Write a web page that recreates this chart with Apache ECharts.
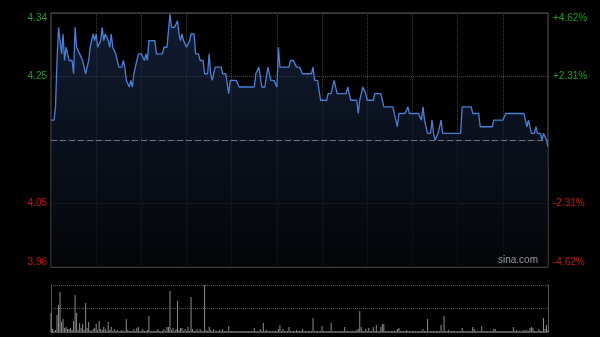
<!DOCTYPE html>
<html>
<head>
<meta charset="utf-8">
<script src="https://cdn.jsdelivr.net/npm/echarts@6/dist/echarts.min.js"></script>
<style>
html,body{margin:0;padding:0;background:#000;}
#chart{width:600px;height:337px;}
</style>
</head>
<body>
<div id="chart"></div>
<script>
const prevClose = 4.15;
const pctTicks = [-4.62, -2.31, 0, 2.31, 4.62];

const prices = [
4.18,4.18,4.18,4.20,4.27,4.32,4.30,4.28,4.31,4.27,
4.29,4.29,4.27,4.27,4.27,4.25,4.32,4.29,4.29,4.28,
4.28,4.27,4.26,4.25,4.25,4.27,4.29,4.29,4.31,4.30,
4.31,4.29,4.29,4.30,4.32,4.30,4.31,4.31,4.30,4.29,
4.31,4.29,4.29,4.28,4.27,4.26,4.26,4.26,4.27,4.26,
4.24,4.24,4.23,4.24,4.23,4.25,4.26,4.27,4.28,4.28,
4.28,4.28,4.27,4.28,4.27,4.30,4.30,4.30,4.30,4.30,
4.28,4.28,4.28,4.28,4.28,4.29,4.29,4.29,4.29,4.34,
4.32,4.32,4.32,4.32,4.33,4.31,4.30,4.31,4.30,4.30,
4.29,4.29,4.30,4.31,4.31,4.31,4.28,4.28,4.28,4.27,
4.27,4.27,4.25,4.25,4.25,4.28,4.25,4.24,4.25,4.26,
4.26,4.26,4.26,4.26,4.25,4.25,4.25,4.25,4.22,4.24,
4.24,4.24,4.24,4.24,4.24,4.23,4.23,4.23,4.23,4.23,
4.23,4.23,4.23,4.23,4.23,4.23,4.25,4.25,4.26,4.26,
4.23,4.23,4.23,4.23,4.26,4.26,4.24,4.24,4.24,4.24,
4.23,4.29,4.26,4.26,4.26,4.26,4.26,4.26,4.26,4.27,
4.27,4.27,4.27,4.26,4.26,4.26,4.26,4.25,4.25,4.25,
4.25,4.25,4.25,4.25,4.26,4.24,4.24,4.24,4.24,4.21,
4.21,4.21,4.21,4.21,4.22,4.22,4.22,4.22,4.24,4.24,
4.22,4.22,4.22,4.22,4.22,4.22,4.22,4.23,4.23,4.21,
4.21,4.21,4.21,4.21,4.19,4.21,4.22,4.23,4.23,4.22,
4.21,4.21,4.21,4.21,4.21,4.22,4.22,4.22,4.22,4.22,
4.22,4.20,4.20,4.20,4.20,4.20,4.20,4.20,4.20,4.18,
4.17,4.19,4.19,4.19,4.19,4.19,4.19,4.20,4.19,4.19,
4.19,4.19,4.19,4.19,4.19,4.19,4.18,4.20,4.18,4.17,
4.16,4.16,4.16,4.18,4.16,4.15,4.15,4.16,4.17,4.18,
4.16,4.16,4.16,4.16,4.16,4.16,4.16,4.16,4.16,4.16,
4.16,4.16,4.16,4.20,4.20,4.20,4.20,4.20,4.20,4.20,
4.19,4.19,4.19,4.19,4.19,4.17,4.17,4.17,4.17,4.17,
4.17,4.17,4.17,4.17,4.18,4.18,4.18,4.18,4.18,4.18,
4.18,4.18,4.19,4.19,4.19,4.19,4.19,4.19,4.19,4.19,
4.19,4.19,4.19,4.19,4.19,4.18,4.17,4.18,4.18,4.16,
4.16,4.16,4.17,4.16,4.16,4.16,4.15,4.16,4.16,4.15,
4.14
];

const volumes = [
190,30,10,20,170,270,400,100,130,40,
50,30,30,40,20,110,370,190,20,90,
40,80,20,290,40,100,20,10,30,40,
80,20,110,30,20,50,30,10,100,20,
50,10,30,10,20,10,10,20,10,10,
130,20,10,10,10,30,10,40,50,10,
10,30,10,10,20,160,10,10,10,10,
10,30,10,10,10,30,10,50,50,410,
20,40,10,30,310,20,40,40,10,30,
10,50,10,350,30,10,10,30,10,30,
10,10,470,20,10,50,20,10,30,10,
10,10,20,10,30,10,10,10,60,10,
10,10,10,10,10,10,10,10,10,10,
10,10,10,10,10,40,10,10,10,30,
10,90,10,20,10,10,10,10,10,10,
10,30,70,10,30,10,10,10,50,10,
10,10,10,20,10,10,10,30,10,10,
10,10,10,10,140,10,10,10,10,10,
60,10,10,10,10,10,90,10,10,10,
10,10,10,10,10,50,10,10,10,10,
10,10,10,20,30,210,50,10,10,30,
10,40,10,10,50,10,70,10,10,50,
80,80,10,10,10,10,10,10,10,10,
30,40,10,10,10,10,20,10,10,10,
10,10,10,10,10,10,10,30,10,10,
130,10,10,10,10,10,10,10,10,70,
10,160,10,10,20,10,10,10,10,10,
10,10,10,40,10,10,10,10,10,10,
50,30,10,10,10,10,60,10,10,10,
10,10,10,10,30,30,10,10,10,10,
10,10,10,10,10,10,10,50,10,20,
10,10,10,10,20,10,20,10,40,50,
40,10,10,10,30,10,10,140,30,70,
20
];

// trading minutes (HK session): 09:30-12:00, 13:01-16:00
const times = [];
function pad(n){return (n<10?'0':'')+n;}
for (let m = 9*60+30; m <= 12*60; m++) times.push(pad(Math.floor(m/60))+':'+pad(m%60));
for (let m = 13*60+1; m <= 16*60; m++) times.push(pad(Math.floor(m/60))+':'+pad(m%60));

const pctData = prices.map(p => +(((p/prevClose)-1)*100).toFixed(4));
const volMax = Math.max.apply(null, volumes);

const FONT = 'Liberation Sans, Arial, sans-serif';
const GREEN = '#1a9e1a';
const RED = '#cc1414';
function isZero(v){return Math.abs(v) < 1e-6;}

const chart = echarts.init(document.getElementById('chart'), null, {renderer:'canvas'});
chart.setOption({
  animation: false,
  backgroundColor: '#000',
  grid: [
    {left: 51, top: 13, width: 497, height: 254, show: true, borderColor: '#5a5a5a', borderWidth: 1, backgroundColor: 'transparent'},
    {left: 51, top: 285, width: 497, height: 47, show: false}
  ],
  xAxis: [
    {
      gridIndex: 0, type: 'category', data: times, boundaryGap: false,
      axisLine: {show: false}, axisTick: {show: false}, axisLabel: {show: false},
      splitLine: {show: true, interval: function(i){ return i > 0 && i < 330 && i % 30 === 0; },
        lineStyle: {color: '#3c3c3c', type: 'dotted', width: 1}}
    },
    {
      gridIndex: 1, type: 'category', data: times, boundaryGap: false,
      axisLine: {show: true, lineStyle: {color: '#555', width: 1}}, axisTick: {show: false}, axisLabel: {show: false},
      splitLine: {show: false}
    }
  ],
  yAxis: [
    {
      gridIndex: 0, type: 'value', min: pctTicks[0], max: pctTicks[4], interval: 2.31, position: 'left',
      axisLine: {show: false}, axisTick: {show: false},
      splitLine: {show: true, lineStyle: {color: '#4a4a4a', type: 'dotted', width: 1}},
      axisLabel: {
        margin: 4, fontSize: 10, fontFamily: FONT,
        color: function(v){ return v > 1e-6 ? GREEN : (v < -1e-6 ? RED : '#888'); },
        formatter: function(v){ return isZero(v) ? '' : (prevClose*(1+v/100)).toFixed(2); },
        verticalAlignMinLabel: 'bottom', verticalAlignMaxLabel: 'top'
      }
    },
    {
      gridIndex: 0, type: 'value', min: pctTicks[0], max: pctTicks[4], interval: 2.31, position: 'right',
      axisLine: {show: false}, axisTick: {show: false}, splitLine: {show: false},
      axisLabel: {
        margin: 5, fontSize: 10, fontFamily: FONT,
        color: function(v){ return v > 1e-6 ? GREEN : (v < -1e-6 ? RED : '#888'); },
        formatter: function(v){ return isZero(v) ? '' : ((v > 0 ? '+' : '') + v.toFixed(2) + '%'); },
        verticalAlignMinLabel: 'bottom', verticalAlignMaxLabel: 'top'
      }
    },
    {
      gridIndex: 1, type: 'value', min: 0, max: volMax, interval: volMax/2, position: 'left',
      axisLine: {show: true, lineStyle: {color: '#555', width: 1}}, axisTick: {show: false}, axisLabel: {show: false},
      splitLine: {show: true, lineStyle: {color: '#555', type: 'dotted', width: 1}}
    },
    {
      gridIndex: 1, type: 'value', min: 0, max: volMax, position: 'right',
      axisLine: {show: true, lineStyle: {color: '#555', width: 1}}, axisTick: {show: false}, axisLabel: {show: false},
      splitLine: {show: false}
    }
  ],
  series: [
    {
      type: 'line', xAxisIndex: 0, yAxisIndex: 0, data: pctData,
      showSymbol: false, symbol: 'none',
      lineStyle: {color: '#4a7fd6', width: 1.3},
      areaStyle: {
        origin: 'start',
        color: new echarts.graphic.LinearGradient(0, 0, 0, 1, [
          {offset: 0, color: 'rgba(30,48,84,0.85)'},
          {offset: 0.5, color: 'rgba(16,26,44,0.9)'},
          {offset: 1, color: 'rgba(6,7,11,1)'}
        ])
      },
      markLine: {
        silent: true, symbol: 'none', label: {show: false},
        lineStyle: {color: '#6c7482', type: [6, 3], width: 1},
        data: [{yAxis: 0}]
      },
      z: 3
    },
    {
      type: 'bar', xAxisIndex: 1, yAxisIndex: 2, data: volumes,
      barWidth: 1, itemStyle: {color: '#8c8c8c'}, z: 2
    }
  ],
  graphic: [
    {type: 'text', right: 62, top: 255, z: 10,
     style: {text: 'sina.com', fill: '#9a9a9a', font: '10px ' + FONT}}
  ]
});
</script>
</body>
</html>
